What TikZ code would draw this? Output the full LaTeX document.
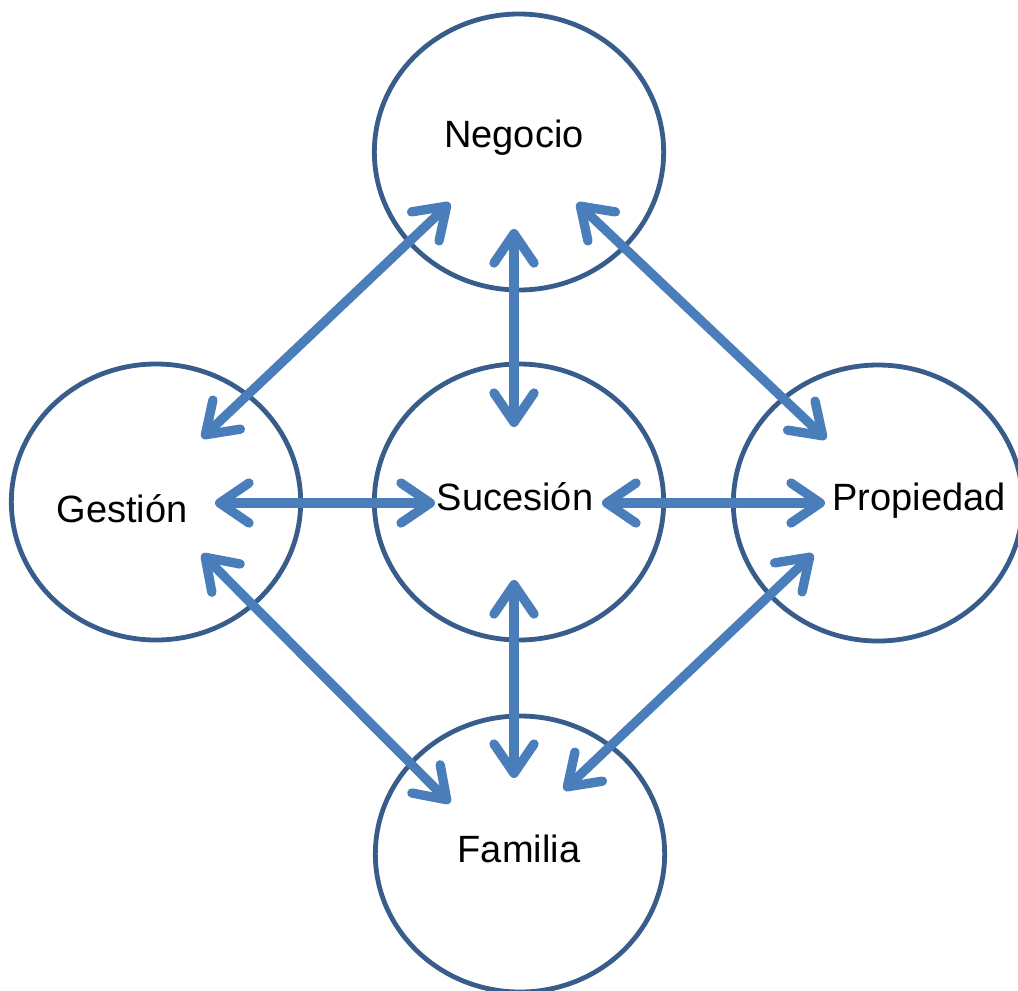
\documentclass[tikz,border=0pt]{standalone}
\usepackage{fontspec}
\setmainfont{Liberation Sans}
\usetikzlibrary{arrows.meta,shapes.geometric}
\definecolor{ringblue}{HTML}{385D8A}
\definecolor{arrowblue}{HTML}{4A7EBB}
\tikzset{
  ring/.style={draw=ringblue, line width=3.6pt, ellipse, inner sep=0pt,
    minimum width=217pt, minimum height=207pt},
  lbl/.style={anchor=base, font=\fontsize{28.5}{32}\selectfont, inner sep=0pt},
  link/.style={draw=arrowblue, line width=7pt,
    {Straight Barb[round,length=22pt,width=30pt]}-{Straight Barb[round,length=22pt,width=30pt]}}
}
\begin{document}
\begin{tikzpicture}[x=0.75pt,y=-0.75pt]
\useasboundingbox (0,0) rectangle (1018,990);
% circles
\node[ring] (cN) at (519,152) {};
\node[ring] (cG) at (156,502) {};
\node[ring] (cS) at (519,502) {};
\node[ring] (cP) at (878,503) {};
\node[ring] (cF) at (520,854) {};
% labels
\node[lbl] (tN) at (514,147) {Negocio};
\node[lbl] (tG) at (122,522) {Gestión};
\node[lbl] (tS) at (515,510) {Sucesión};
\node[lbl] (tP) at (919,510) {Propiedad};
\node[lbl] (tF) at (519,862) {Familia};
% arrow end points
\coordinate (nS) at (514,229);
\coordinate (sN) at (514,427);
\coordinate (sF) at (514,580);
\coordinate (fS) at (514,778);
\coordinate (gS) at (215,503);
\coordinate (sG) at (435,503);
\coordinate (sP) at (602,503);
\coordinate (pS) at (825,503);
\coordinate (gN) at (202,438);
\coordinate (nG) at (450,203);
\coordinate (nP) at (577,203);
\coordinate (pN) at (826,439);
\coordinate (gF) at (202,554);
\coordinate (fG) at (450,803);
\coordinate (pF) at (813,554);
\coordinate (fP) at (564,790);
% arrows
\draw[link] (nS) -- (sN);
\draw[link] (sF) -- (fS);
\draw[link] (gS) -- (sG);
\draw[link] (sP) -- (pS);
\draw[link] (gN) -- (nG);
\draw[link] (nP) -- (pN);
\draw[link] (gF) -- (fG);
\draw[link] (pF) -- (fP);
\end{tikzpicture}
\end{document}
